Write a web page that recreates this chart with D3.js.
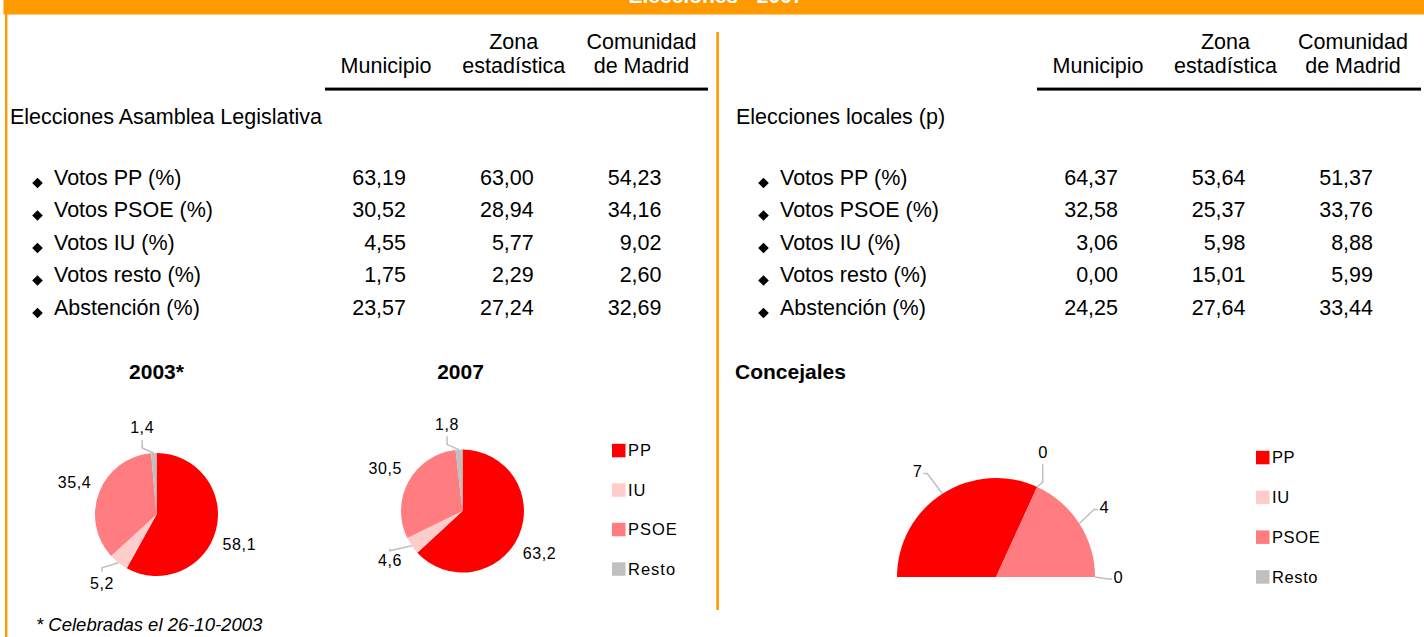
<!DOCTYPE html>
<html lang="es">

<head>
    <meta charset="utf-8">
    <script src="https://d3js.org/d3.v7.min.js"></script>
    <style>
        body { margin: 0; background: #fff; }
        text { font-family: "Liberation Sans", Arial, sans-serif; fill: #000; }
    </style>
</head>

<body>

    <script>

        // ---- data ----
        const pageTitle = "Elecciones - 2007";
        const columnHeads = [["Municipio"], ["Zona", "estadística"], ["Comunidad", "de Madrid"]];
        const rowLabels = ["Votos PP (%)", "Votos PSOE (%)", "Votos IU (%)", "Votos resto (%)", "Abstención (%)"];

        const asambleaTitle = "Elecciones Asamblea Legislativa";
        const asambleaMunicipio = [63.19, 30.52, 4.55, 1.75, 23.57];
        const asambleaZona = [63.00, 28.94, 5.77, 2.29, 27.24];
        const asambleaComunidad = [54.23, 34.16, 9.02, 2.60, 32.69];

        const localesTitle = "Elecciones locales (p)";
        const localesMunicipio = [64.37, 32.58, 3.06, 0.00, 24.25];
        const localesZona = [53.64, 25.37, 5.98, 15.01, 27.64];
        const localesComunidad = [51.37, 33.76, 8.88, 5.99, 33.44];

        const parties = ["PP", "IU", "PSOE", "Resto"];
        const votes2003 = [58.1, 5.2, 35.4, 1.4];
        const votes2007 = [63.2, 4.6, 30.5, 1.8];
        const concejales = [7, 0, 4, 0];
        const footnote = "* Celebradas el 26-10-2003";

        // ---- styles ----
        const orange = "#FF9900";
        const leaderColor = "#BFBFBF";
        const color = d3.scaleOrdinal()
            .domain(parties)
            .range(["#FF0000", "#FFCCCC", "#FF7C80", "#C0C0C0"]);

        const es = d3.formatLocale({ decimal: ",", thousands: ".", grouping: [3], currency: ["", " €"] });
        const fmt2 = es.format(".2f");
        const fmt1 = es.format(".1f");

        const width = 1424;
        const height = 637;
        const bodySize = "21.5px";

        var svg = d3.select("body")
            .append("svg")
            .attr("width", width)
            .attr("height", height);

        svg.append("rect").attr("width", width).attr("height", height).attr("fill", "#fff");

        // frame
        svg.append("rect").attr("x", 3.5).attr("y", 0).attr("width", width - 3.5).attr("height", 14.5).attr("fill", orange);
        svg.append("rect").attr("x", 5).attr("y", 0).attr("width", 2.4).attr("height", height).attr("fill", orange);
        svg.append("rect").attr("x", 716.3).attr("y", 32).attr("width", 2.6).attr("height", 578).attr("fill", orange);

        // the title sits above the page edge, as in the source sheet
        svg.append("text")
            .attr("x", 716)
            .attr("y", 3)
            .attr("text-anchor", "middle")
            .style("font-size", "21px")
            .style("font-weight", "bold")
            .style("fill", "#fff")
            .text(pageTitle);

        // ---- tables ----
        var rowY = d3.scalePoint().domain(rowLabels).range([184.5, 314.5]);

        function drawTable(opts) {
            var colX = d3.scalePoint().domain([0, 1, 2]).range(opts.colRange);
            var g = svg.append("g");

            // column heads
            columnHeads.forEach(function (lines, i) {
                var t = g.append("text")
                    .attr("x", colX(i) - 20)
                    .attr("text-anchor", "middle")
                    .style("font-size", bodySize);
                lines.forEach(function (line, j) {
                    t.append("tspan")
                        .attr("x", colX(i) - 20)
                        .attr("y", 73 - (lines.length - 1 - j) * 24.5)
                        .text(line);
                });
            });

            g.append("rect")
                .attr("x", opts.ruleX[0])
                .attr("y", 87.6)
                .attr("width", opts.ruleX[1] - opts.ruleX[0])
                .attr("height", 3)
                .attr("fill", "#000");

            g.append("text")
                .attr("x", opts.x0)
                .attr("y", 124)
                .style("font-size", bodySize)
                .text(opts.title);

            var rows = g.selectAll("g.row")
                .data(rowLabels)
                .enter()
                .append("g")
                .attr("class", "row")
                .attr("transform", function (d) { return "translate(0," + rowY(d) + ")"; });

            rows.append("path")
                .attr("d", function () {
                    var cx = opts.x0 + 27.5, cy = -1.5, s = 5.3;
                    return "M" + cx + "," + (cy - s) + "L" + (cx + s) + "," + cy + "L" + cx + "," + (cy + s) + "L" + (cx - s) + "," + cy + "Z";
                })
                .attr("fill", "#000");

            rows.append("text")
                .attr("x", opts.x0 + 44)
                .style("font-size", bodySize)
                .text(function (d) { return d; });

            opts.series.forEach(function (vals, c) {
                rows.append("text")
                    .attr("x", colX(c))
                    .attr("text-anchor", "end")
                    .style("font-size", bodySize)
                    .text(function (d, i) { return fmt2(vals[i]); });
            });
        }

        drawTable({
            x0: 10, title: asambleaTitle, colRange: [406, 661.5], ruleX: [325, 708],
            series: [asambleaMunicipio, asambleaZona, asambleaComunidad]
        });
        drawTable({
            x0: 736, title: localesTitle, colRange: [1118, 1373], ruleX: [1037, 1421],
            series: [localesMunicipio, localesZona, localesComunidad]
        });

        // ---- pies ----
        function polar(a, r) { return [Math.sin(a) * r, -Math.cos(a) * r]; }

        function drawPie(opts) {
            var g = svg.append("g").attr("transform", "translate(" + opts.cx + "," + opts.cy + ")");
            var data = parties.map(function (p, i) { return { party: p, value: opts.values[i] }; });
            var pie = d3.pie().sort(null).value(function (d) { return d.value; })
                .startAngle(opts.start).endAngle(opts.end);
            var arcs = pie(data);
            var arc = d3.arc().innerRadius(0).outerRadius(opts.r);

            g.selectAll("path.slice")
                .data(arcs)
                .enter()
                .append("path")
                .attr("class", "slice")
                .attr("d", arc)
                .attr("fill", function (d) { return color(d.data.party); });

            svg.append("text")
                .attr("x", opts.cx + opts.titleDx)
                .attr("y", 379)
                .attr("text-anchor", opts.titleAnchor)
                .style("font-size", "21px")
                .style("font-weight", "bold")
                .text(opts.title);

            arcs.forEach(function (d) {
                var mid = (d.startAngle + d.endAngle) / 2;
                var la = mid + opts.nudge(d, mid);
                var lp = polar(la, opts.labelR(la));
                var p0 = polar(mid, opts.r);
                var pts = null;
                if (opts.leader(d)) {
                    var s = Math.sin(la);
                    if (opts.vertical || Math.abs(s) < 0.45) {
                        var up = Math.cos(la) > 0 ? -1 : 1;
                        pts = [p0, [lp[0], p0[1] + up * 5], [lp[0], lp[1] - up * 12]];
                    } else {
                        var side = s > 0 ? 1 : -1;
                        pts = [p0, [lp[0] - side * 10, lp[1] + 2], [lp[0] - side * 6, lp[1] + 2]];
                    }
                    g.append("path")
                        .attr("d", d3.line()(pts))
                        .attr("fill", "none")
                        .attr("stroke", leaderColor)
                        .attr("stroke-width", 1.5);
                }
                g.append("text")
                    .attr("x", lp[0])
                    .attr("y", lp[1])
                    .attr("dy", "0.35em")
                    .attr("text-anchor", "middle")
                    .style("font-size", opts.labelSize)
                    .style("letter-spacing", opts.labelSpacing)
                    .text(opts.format(d.data.value));
            });
        }

        function drawLegend(x, y0, step, spacing) {
            var ly = d3.scalePoint().domain(parties).range([y0, y0 + step * 3]);
            var g = svg.append("g");
            var items = g.selectAll("g")
                .data(parties)
                .enter()
                .append("g")
                .attr("transform", function (d) { return "translate(" + x + "," + ly(d) + ")"; });
            items.append("rect")
                .attr("x", 0).attr("y", -6.7).attr("width", 13.5).attr("height", 13.5)
                .attr("fill", function (d) { return color(d); });
            items.append("text")
                .attr("x", 16)
                .attr("dy", "0.36em")
                .style("font-size", "16.5px")
                .style("letter-spacing", spacing)
                .text(function (d) { return d; });
        }

        var smallSlice = function (d) { return d.data.value < 6; };
        // excel pushes the big label down a little and the top one to the left
        var pieNudge = function (d, mid) {
            if (mid > 5.9) return -0.12;
            if (d.data.value > 50) return 0.09;
            return 0;
        };

        drawPie({
            cx: 156.5, cy: 514.5, r: 61.5, labelR: function () { return 88; }, values: votes2003, title: "2003*",
            titleDx: 0, titleAnchor: "middle", start: 0, end: 2 * Math.PI,
            leader: smallSlice, nudge: pieNudge, vertical: true, format: fmt1,
            labelSize: "16px", labelSpacing: "0.6px"
        });
        drawPie({
            cx: 462.5, cy: 511, r: 61.5, labelR: function () { return 88; }, values: votes2007, title: "2007",
            titleDx: -2, titleAnchor: "middle", start: 0, end: 2 * Math.PI,
            leader: smallSlice, nudge: pieNudge, vertical: true, format: fmt1,
            labelSize: "16px", labelSpacing: "0.6px"
        });
        drawLegend(612, 450.5, 39.5, "1px");

        drawPie({
            cx: 996, cy: 577, r: 99, values: concejales, title: "Concejales",
            labelR: function (a) { return 122 + 12 * Math.abs(Math.cos(a)); },
            titleDx: 735 - 996, titleAnchor: "start", start: -Math.PI / 2, end: Math.PI / 2,
            leader: function () { return true; },
            nudge: function (d, mid) { return mid < 0.5 ? -0.07 : 0; },
            vertical: false, format: d3.format("d"),
            labelSize: "16.5px", labelSpacing: "0px"
        });
        drawLegend(1256, 457.5, 39.8, "0.6px");

        svg.append("text")
            .attr("x", 36)
            .attr("y", 631)
            .style("font-size", "18.5px")
            .style("font-style", "italic")
            .text(footnote);

    </script>

</body>

</html>
